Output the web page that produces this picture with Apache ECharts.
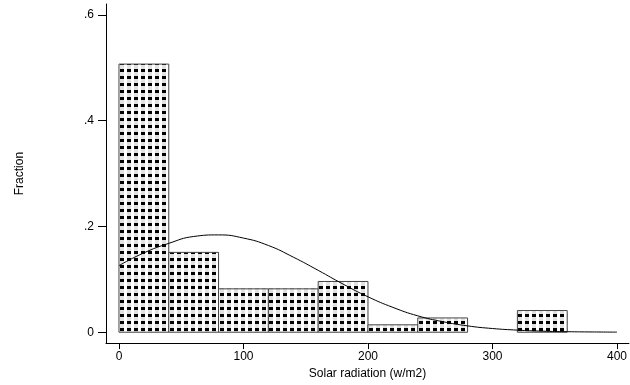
<!DOCTYPE html>
<html>
<head>
<meta charset="utf-8">
<script src="https://cdn.jsdelivr.net/npm/echarts@6/dist/echarts.min.js"></script>
<style>
html,body{margin:0;padding:0;background:#fff;}
#chart{width:630px;height:385px;}
</style>
</head>
<body>
<div id="chart"></div>
<script>
// Histogram bins (lower edges, width 40 w/m2) and fractions
const binStarts = [0, 40, 80, 120, 160, 200, 240, 280, 320, 360];
const binWidth = 40;
const fractions = [0.507, 0.151, 0.082, 0.082, 0.096, 0.014, 0.027, 0, 0.041, 0];

// Overlaid curve, points
const curveX = [0, 20, 40, 60, 80, 100, 120, 140, 160, 180, 200, 220, 240, 260, 280, 300, 320, 340, 360, 380, 400];
const curveY = [0.126, 0.150, 0.168, 0.181, 0.184, 0.178, 0.164, 0.142, 0.117, 0.091, 0.067, 0.047, 0.031, 0.020, 0.012, 0.007, 0.004, 0.002, 0.001, 0.0005, 0.0002];

// Tick labels
const xTicks = [0, 100, 200, 300, 400];
const yTicks = [0, 0.2, 0.4, 0.6];
const xTitle = 'Solar radiation (w/m2)';
const yTitle = 'Fraction';

// dotted fill pattern
const pat = document.createElement('canvas');
pat.width = 7; pat.height = 7;
const pc = pat.getContext('2d');
pc.fillStyle = '#ffffff'; pc.fillRect(0, 0, 7, 7);
pc.fillStyle = '#e2e2e2'; pc.fillRect(0, 3, 4, 4);
pc.fillStyle = '#000000'; pc.fillRect(0, 0, 4, 3);

const barData = binStarts.map((s, i) => [s, s + binWidth, fractions[i]]).filter(d => d[2] > 0);
const lineData = curveX.map((x, i) => [x, curveY[i]]);

const chart = echarts.init(document.getElementById('chart'), null, {renderer: 'canvas'});
const font = 'Liberation Sans, Arial, Helvetica, sans-serif';
chart.setOption({
  animation: false,
  backgroundColor: '#fff',
  grid: {left: 106, right: 0, top: 4, bottom: 38, containLabel: false},
  xAxis: {
    type: 'value', min: -10.42, max: 409.6,
    name: xTitle, nameLocation: 'middle', nameGap: 20,
    nameTextStyle: {color: '#000', fontFamily: font, fontSize: 12},
    axisLine: {onZero: false, lineStyle: {color: '#000', width: 1}},
    axisTick: {show: true, length: 6, customValues: xTicks, lineStyle: {color: '#000'}},
    axisLabel: {customValues: xTicks, margin: 8, color: '#000', fontFamily: font, fontSize: 12},
    splitLine: {show: false}
  },
  yAxis: {
    type: 'value', min: -0.02056, max: 0.6206,
    name: yTitle, nameLocation: 'middle', nameGap: 80, nameRotate: 90,
    nameTextStyle: {color: '#000', fontFamily: font, fontSize: 12},
    axisLine: {show: true, onZero: false, lineStyle: {color: '#000', width: 1}},
    axisTick: {show: true, length: 8, customValues: yTicks, lineStyle: {color: '#000'}},
    axisLabel: {customValues: yTicks, margin: 12, color: '#000', fontFamily: font, fontSize: 12,
      formatter: v => v === 0 ? '0' : String(Math.round(v * 10) / 10).replace(/^0/, '')},
    splitLine: {show: false}
  },
  series: [
    {
      type: 'custom',
      data: barData,
      renderItem: function (params, api) {
        const p0 = api.coord([api.value(0), 0]);
        const p1 = api.coord([api.value(1), api.value(2)]);
        return {
          type: 'rect',
          shape: {x: p0[0], y: p1[1], width: p1[0] - p0[0], height: p0[1] - p1[1]},
          style: {
            fill: {image: pat, repeat: 'repeat', x: Math.round(p0[0]) + 1, y: Math.round(p0[1]) - 4},
            stroke: '#444', lineWidth: 1
          }
        };
      },
      encode: {x: [0, 1], y: 2},
      z: 1
    },
    {
      type: 'line',
      data: lineData,
      smooth: true,
      showSymbol: false,
      lineStyle: {color: '#000', width: 1},
      z: 2
    }
  ]
});
</script>
</body>
</html>
